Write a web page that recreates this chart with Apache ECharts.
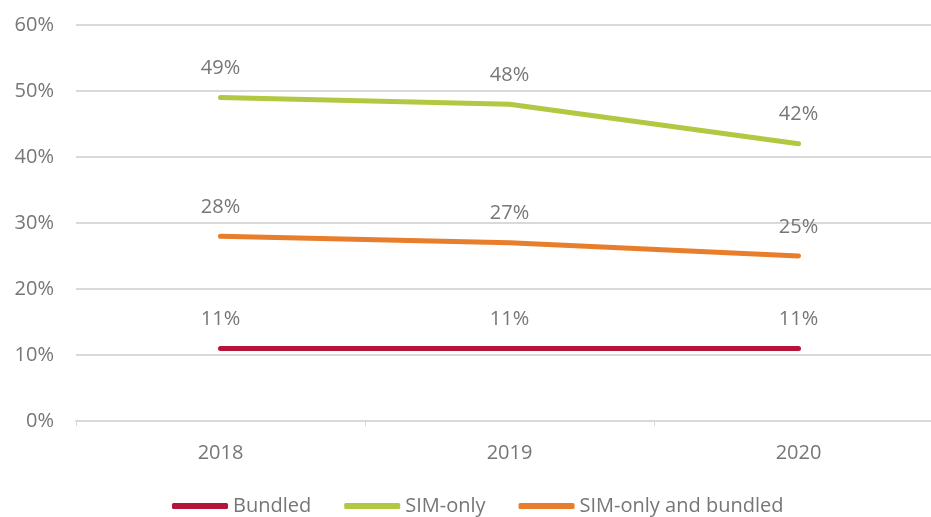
<!DOCTYPE html>
<html><head><meta charset="utf-8">
<script src="https://cdn.jsdelivr.net/npm/echarts@6/dist/echarts.min.js"></script>
<style>html,body{margin:0;padding:0;background:#fff;overflow:hidden;width:931px;height:517px}#c{width:950px;height:517px}</style>
</head><body><div id="c"></div>
<script>
var categories = ['2018', '2019', '2020'];
var bundled = [11, 11, 11];
var simOnly = [49, 48, 42];
var simAndBundled = [28, 27, 25];
var seriesNames = ['Bundled', 'SIM-only', 'SIM-only and bundled'];
var colors = ['#b5123c', '#b2c843', '#e87e2b'];
var font = 'Open Sans';
var grey = '#767676';
var fs = 20;
function mk(name, data, color) {
  return {
    name: name, type: 'line', data: data, symbol: 'circle', symbolSize: 0.1, showSymbol: true,
    lineStyle: {width: 5, color: color, cap: 'round'}, itemStyle: {color: color},
    label: {show: true, position: 'top', distance: 19, formatter: '{c}%', color: grey, fontSize: fs, fontFamily: font},
    labelLayout: {hideOverlap: false},
    emphasis: {disabled: true},
    animation: false
  };
}
var chart = echarts.init(document.getElementById('c'));
chart.setOption({
  animation: false,
  grid: {left: 76, right: 7, top: 25, bottom: 96},
  legend: {
    bottom: -4, left: 167, icon: 'roundRect', itemWidth: 56, itemHeight: 6, itemGap: 33,
    textStyle: {color: grey, fontSize: fs, fontFamily: font},
    data: seriesNames
  },
  xAxis: {
    type: 'category', data: categories, boundaryGap: true,
    axisLine: {lineStyle: {color: '#d9d9d9', width: 2}},
    axisTick: {show: true, length: 5, lineStyle: {color: '#d9d9d9'}},
    axisLabel: {color: grey, fontSize: fs, fontFamily: font, margin: 22}
  },
  yAxis: {
    type: 'value', min: 0, max: 60, interval: 10,
    axisLine: {show: false}, axisTick: {show: false},
    splitLine: {lineStyle: {color: '#d9d9d9', width: 2}},
    axisLabel: {formatter: '{value}%', color: grey, fontSize: fs, fontFamily: font, margin: 22}
  },
  series: [mk(seriesNames[0], bundled, colors[0]), mk(seriesNames[1], simOnly, colors[1]), mk(seriesNames[2], simAndBundled, colors[2])]
});
</script></body></html>
